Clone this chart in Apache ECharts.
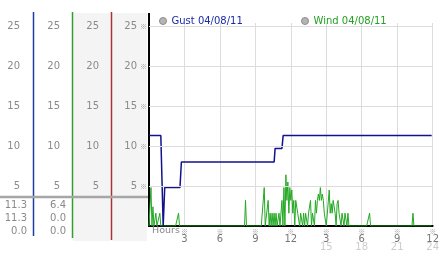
<!DOCTYPE html>
<html><head><meta charset="utf-8">
<script src="https://cdn.jsdelivr.net/npm/echarts@6/dist/echarts.min.js"></script>
<style>html,body{margin:0;padding:0;background:#fff}#c{width:442px;height:253px}</style>
</head><body><div id="c"></div>
<script>
// ---- data ----
const gustName = 'Gust 04/08/11';
const windName = 'Wind 04/08/11';
const yTickValues = [5, 10, 15, 20, 25];
const xTickHours = [3, 6, 9, 12, 15, 18, 21, 24];
const xTickTop = ['3', '6', '9', '12', '3', '6', '9', '12'];
const xTickSub = ['', '', '', '', '15', '18', '21', '24'];
const gustStats = ['11.3', '11.3', '0.0'];
const windStats = ['6.4', '0.0', '0.0'];
// gust: [hour, mph]
const gustHours  = [0, 1.0, 1.2, 1.33, 2.62, 2.74, 10.59, 10.67, 11.25, 11.35, 23.92];
const gustValues = [11.3, 11.3, 0, 4.8, 4.8, 8.0, 8.0, 9.7, 9.7, 11.3, 11.3];
// wind: one reading every 5 minutes starting 00:00
const windStepMinutes = 5;
const windValues = [
0,
0,4.8,0,2.4,0,0,1.6,0,0,0,1.6,0,0,0,0,0,0,0,0,0,0,0,0,0,
0,0,0,0,0,1.6,0,0,0,0,0,0,0,0,0,0,0,0,0,0,0,0,0,0,
0,0,0,0,0,0,0,0,0,0,0,0,0,0,0,0,0,0,0,0,0,0,0,0,
0,0,0,0,0,0,0,0,0,0,0,0,0,0,0,0,0,0,0,0,0,0,0,0,
0,3.2,0,0,0,0,0,0,0,0,0,0,0,0,0,0,0,0,0,0,4.8,0,0,0,
3.2,0,1.6,0,1.6,0,1.6,0,1.6,0,0,1.6,0,0,3.2,0,4.8,0,6.4,3.2,5.5,1.6,4.8,3.2,
4.5,1.6,3.2,0,3.2,3.2,1.6,1.6,0,1.6,1.6,0,1.6,0,1.6,1.6,0,1.6,1.6,3.2,0,1.6,1.6,0,
3.2,1.6,3.2,4.0,3.2,4.8,3.2,4.0,3.2,1.6,1.6,0,0,0,4.5,1.6,2.8,1.6,3.2,3.2,1.6,0,2.8,3.2,
1.6,1.6,0,1.6,1.6,0,1.6,1.6,0,1.6,0,0,0,0,0,0,0,0,0,0,0,0,0,0,
0,0,0,0,0,0,0,1.6,0,0,0,0,0,0,0,0,0,0,0,0,0,0,0,0,
0,0,0,0,0,0,0,0,0,0,0,0,0,0,0,0,0,0,0,0,0,0,0,0,
0,0,0,1.6,0,0,0,0,0,0,0,0,0,0,0,0,0,0,0,0,0,0,0
];

// ---- chart ----
const yMax = 25.375;
const FONT = 'DejaVu Sans';
const GLYPH_FONT = '"Noto Sans CJK SC", "DejaVu Sans"';
const labelGray = '#8a8a8a';
const gustData = gustHours.map((h, i) => [h, gustValues[i]]);
const windData = windValues.map((v, k) => [k * windStepMinutes / 60, v]);

function leftAxis(offset, margin, extra) {
  return Object.assign({
    type: 'value', position: 'left', offset: offset, min: 0, max: yMax, interval: 5,
    axisLine: {show: false}, axisTick: {show: false}, splitLine: {show: false},
    axisLabel: {margin: margin, color: labelGray, fontSize: 10, fontFamily: FONT,
      formatter: v => yTickValues.includes(v) ? String(v) : ''},
    z: 10
  }, extra || {});
}

const chart = echarts.init(document.getElementById('c'), null, {renderer: 'canvas'});
const statText = (arr, x) => arr.map((t, i) => ({
  type: 'text', x: x, y: 205 + i * 13, z: 20,
  style: {text: t, fill: labelGray, font: '10px "DejaVu Sans"', align: 'right', verticalAlign: 'middle'}
}));

chart.setOption({
  animation: false,
  backgroundColor: '#fff',
  grid: {left: 149, right: 4, top: 23, bottom: 27, containLabel: false},
  legend: [
    {left: 154, top: 11, icon: 'circle', itemWidth: 7, itemHeight: 7.5, selectedMode: false,
     lineStyle: {opacity: 0},
     textStyle: {fontSize: 10, fontFamily: FONT},
     data: [{name: gustName, itemStyle: {color: '#b4b4b4', borderColor: '#8c8c8c', borderWidth: 1}, textStyle: {color: '#1a2aa8'}}]},
    {left: 296, top: 11, icon: 'circle', itemWidth: 7, itemHeight: 7.5, selectedMode: false,
     lineStyle: {opacity: 0},
     textStyle: {fontSize: 10, fontFamily: FONT},
     data: [{name: windName, itemStyle: {color: '#b4b4b4', borderColor: '#8c8c8c', borderWidth: 1}, textStyle: {color: '#22a022'}}]}
  ],
  xAxis: {
    type: 'value', min: 0, max: 24, interval: 3,
    axisLine: {show: true, lineStyle: {color: '#000', width: 2}},
    axisTick: {show: false},
    splitLine: {show: true, lineStyle: {color: '#dcdcdc', width: 1}},
    axisLabel: {
      margin: 1, color: '#777', fontSize: 10, fontFamily: FONT,
      formatter: v => {
        if (v === 0) return '{h|Hours}';
        const i = xTickHours.indexOf(v);
        if (i < 0) return '';
        return '{g|※}\n{a|' + xTickTop[i] + '}\n{b|' + (xTickSub[i] || ' ') + '}';
      },
      rich: {
        h: {fontSize: 9.5, color: '#888', fontFamily: FONT, lineHeight: 8, padding: [0, 0, 0, 34]},
        g: {fontSize: 7, color: '#999', fontFamily: GLYPH_FONT, lineHeight: 8},
        a: {fontSize: 10, color: '#777', fontFamily: FONT, lineHeight: 8},
        b: {fontSize: 10, color: '#cccccc', fontFamily: FONT, lineHeight: 8}
      }
    }
  },
  yAxis: [
    leftAxis(0, 12, {splitLine: {show: true, showMinLine: false, showMaxLine: false, lineStyle: {color: '#dcdcdc', width: 1}}}),
    leftAxis(0, 2, {axisLabel: {margin: 2, color: '#999', fontSize: 7, fontFamily: GLYPH_FONT,
      formatter: v => yTickValues.includes(v) ? '※' : ''}}),
    leftAxis(38, 12),
    leftAxis(77, 12),
    leftAxis(116, 13)
  ],
  graphic: [
    {type: 'rect', z: 0, shape: {x: 73, y: 13, width: 38, height: 228}, style: {fill: '#f4f4f4'}},
    {type: 'rect', z: 0, shape: {x: 112, y: 13, width: 35, height: 228}, style: {fill: '#f4f4f4'}},
    {type: 'line', z: 1, shape: {x1: 33.5, y1: 12, x2: 33.5, y2: 236}, style: {stroke: '#1f3d9c', lineWidth: 1.5}},
    {type: 'line', z: 1, shape: {x1: 72.5, y1: 12, x2: 72.5, y2: 238}, style: {stroke: '#2fa02f', lineWidth: 1.5}},
    {type: 'line', z: 1, shape: {x1: 111.5, y1: 12, x2: 111.5, y2: 240}, style: {stroke: '#a83434', lineWidth: 1.5}},
    {type: 'line', z: 1, shape: {x1: 149, y1: 13, x2: 149, y2: 227}, style: {stroke: '#000', lineWidth: 2}},
    {type: 'line', z: 2, shape: {x1: 0, y1: 197, x2: 148, y2: 197}, style: {stroke: '#a6a6a6', lineWidth: 2.5}}
  ].concat(statText(gustStats, 27), statText(windStats, 66)),
  series: [
    {name: gustName, type: 'line', yAxisIndex: 0, data: gustData, showSymbol: false, symbol: 'circle',
     lineStyle: {color: '#12128c', width: 1.5}, itemStyle: {color: '#12128c'}, z: 4},
    {name: windName, type: 'line', yAxisIndex: 0, data: windData, showSymbol: false, symbol: 'circle',
     lineStyle: {color: '#22a822', width: 1}, itemStyle: {color: '#22a822'}, z: 3}
  ]
});
</script>
</body></html>
